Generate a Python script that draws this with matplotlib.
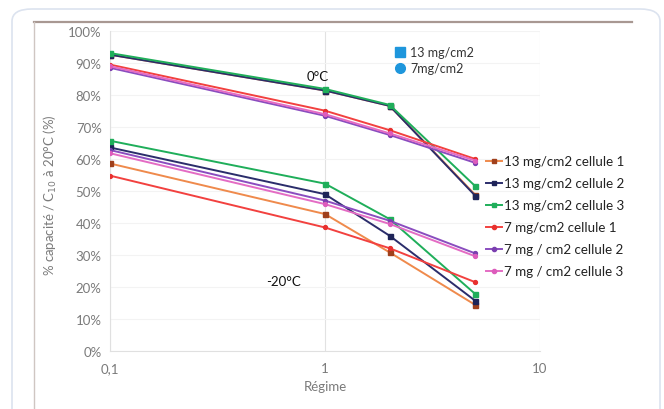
import matplotlib
matplotlib.use("Agg")
import matplotlib.pyplot as plt
from matplotlib.lines import Line2D
from matplotlib.patches import FancyBboxPatch
from matplotlib.ticker import FixedLocator, NullLocator

plt.rcParams['font.family'] = ['Lato', 'DejaVu Sans']

# ---- data ----
regime = [0.1, 1, 2, 5]
labels = ["13 mg/cm2 cellule 1", "13 mg/cm2 cellule 2", "13 mg/cm2 cellule 3",
          "7 mg/cm2 cellule 1", "7 mg / cm2 cellule 2", "7 mg / cm2 cellule 3"]
# capacity (%) at 0°C
cap_0C = [
    [92.6, 81.4, 76.6, 48.8],
    [92.6, 81.4, 76.6, 48.5],
    [93.1, 81.9, 76.9, 51.5],
    [89.5, 75.1, 69.0, 60.0],
    [88.5, 73.5, 67.5, 58.8],
    [89.0, 74.0, 68.0, 59.5],
]
# capacity (%) at -20°C
cap_m20C = [
    [58.6, 42.8, 30.8, 14.4],
    [63.6, 49.0, 36.0, 15.7],
    [65.7, 52.3, 41.2, 17.8],
    [54.8, 38.6, 32.1, 21.5],
    [62.8, 47.0, 40.7, 30.5],
    [61.8, 45.9, 39.7, 29.6],
]
line_colors = ["#ef8a4c", "#2b2d6b", "#1fae5a", "#f2413f", "#8a4dbf", "#e46cc4"]
marker_colors = ["#a0401c", "#1e2458", "#1fae5a", "#e8302e", "#7b3fb0", "#dd5cbc"]
markers = ["s", "s", "s", "o", "o", "o"]
yticks = [0, 10, 20, 30, 40, 50, 60, 70, 80, 90, 100]
xticks = [0.1, 1, 10]
xticklabels = ["0,1", "1", "10"]

W, H = 664, 410
fig = plt.figure(figsize=(W / 100, H / 100), dpi=100)

# frame decorations
fig.patches.append(FancyBboxPatch((12 / W, -30 / H), 648 / W, 430 / H,
                                  boxstyle="round,pad=0,rounding_size=0.03",
                                  transform=fig.transFigure, fill=False,
                                  edgecolor="#dce3ef", linewidth=1.2))
fig.add_artist(Line2D([34 / W, 632 / W], [1 - 23 / H, 1 - 23 / H],
                      transform=fig.transFigure, color="#a89892", lw=1.6))
fig.add_artist(Line2D([34 / W, 34 / W], [0, 1 - 23 / H],
                      transform=fig.transFigure, color="#cfc6c2", lw=1.0))

ax = fig.add_axes([110 / W, 58 / H, 430 / W, 320 / H])
ax.set_xscale("log")
ax.set_xlim(0.1, 10)
ax.set_ylim(0, 100)

handles = []
for i in range(6):
    for vals in (cap_0C[i], cap_m20C[i]):
        ax.plot(regime, vals, color=line_colors[i], lw=1.4,
                marker=markers[i], ms=3.6 if markers[i] == "s" else 2.8,
                mfc=marker_colors[i], mec=marker_colors[i], zorder=3 + i)
    handles.append(Line2D([], [], color=line_colors[i], lw=1.4, marker=markers[i],
                          ms=3, mfc=marker_colors[i], mec=marker_colors[i]))

ax.xaxis.set_major_locator(FixedLocator(xticks))
ax.xaxis.set_minor_locator(NullLocator())
ax.set_xticklabels(xticklabels)
ax.set_yticks(yticks)
ax.set_yticklabels([f"{v}%" for v in yticks])
ax.tick_params(axis="both", length=0, labelsize=9.5, colors="#7a7a7a")
ax.tick_params(axis="x", pad=8)
ax.tick_params(axis="y", pad=6)
ax.grid(axis="x", color="#e2e2e2", lw=0.8)
ax.grid(axis="y", color="#f3f3f3", lw=0.8)
ax.set_axisbelow(True)
for s in ("top", "right"):
    ax.spines[s].set_visible(False)
for s in ("left", "bottom"):
    ax.spines[s].set_color("#e0e0e0")

ax.set_xlabel("Régime", fontsize=9.5, color="#7a7a7a", labelpad=4)
fig.text(50 / W, 1 - 195 / H, "% capacité / C$_{10}$ à 20°C (%)", rotation=90,
         ha="center", va="center", fontsize=9.5, color="#7a7a7a")

ax.text(0.927, 86.0, "0°C", ha="center", va="center", fontsize=9.5, color="#111")
ax.text(0.638, 21.9, "-20°C", ha="center", va="center", fontsize=9.5, color="#111")

leg = fig.legend(handles, labels, loc="upper left",
                 bbox_to_anchor=(481 / W, 1 - 151 / H), frameon=False,
                 fontsize=9.6, handlelength=1.15, handletextpad=0.2,
                 labelspacing=0.75, borderaxespad=0)
for t in leg.get_texts():
    t.set_color("#222222")

mini = [Line2D([], [], ls="none", marker="s", ms=7, color="#1e96dc"),
        Line2D([], [], ls="none", marker="o", ms=7, color="#1e96dc")]
fig.legend(mini, ["13 mg/cm2", "7mg/cm2"], loc="upper left",
           bbox_to_anchor=(390 / W, 1 - 42 / H), frameon=False, fontsize=9,
           handlelength=0.8, handletextpad=0.4, labelspacing=0.35,
           borderaxespad=0, labelcolor="#333333")

fig.savefig("out.png", dpi=100)
